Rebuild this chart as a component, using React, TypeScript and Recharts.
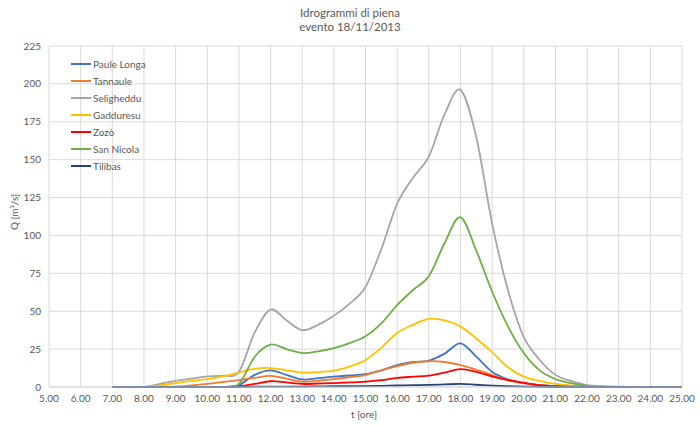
import React from 'react';
import { LineChart, Line, XAxis, YAxis, CartesianGrid } from 'recharts';

const hours = [7, 7.5, 8, 8.5, 9, 9.5, 10, 10.5, 11, 11.5, 12, 12.5, 13, 13.5, 14, 14.5, 15, 15.5, 16, 16.5, 17, 17.5, 18, 18.5, 19, 19.5, 20, 20.5, 21, 21.5, 22, 22.5, 23, 23.5, 24, 24.5, 25];

const pauleLonga = [0, 0, 0, 0, 0, 0, 0, 0, 1.3, 8, 11, 8, 5, 5.8, 6.8, 7.6, 8.5, 11, 14.5, 16.5, 17.4, 22, 28.8, 20, 10, 5, 2.6, 1.2, 0.5, 0.2, 0, 0, 0, 0, 0, 0, 0];
const tannaule = [0, 0, 0, 0, 0.3, 1, 2, 3.3, 4.6, 6, 7.3, 5.5, 3.5, 4.2, 5.2, 6.5, 7.9, 11, 13.8, 16, 17, 16.5, 14.5, 11.5, 8, 4.5, 2.5, 1.2, 0.5, 0.2, 0, 0, 0, 0, 0, 0, 0];
const seligheddu = [0, 0, 0, 2, 4, 5.5, 7, 7.5, 10, 36, 51, 44, 37.5, 41, 47, 55, 66, 91, 121, 138, 152, 180, 196, 165, 108, 64, 33, 18, 8, 4, 1.3, 0.5, 0.2, 0, 0, 0, 0];
const gadduresu = [0, 0, 0, 1, 2.5, 4, 5.2, 7, 9.5, 12, 12.5, 11, 9.5, 9.8, 10.8, 13.5, 17.8, 26, 35.6, 41, 45, 44, 40, 32, 23, 13, 6.8, 4, 2, 1, 0.4, 0.1, 0, 0, 0, 0, 0];
const zozo = [0, 0, 0, 0, 0, 0, 0, 0, 0.5, 2, 3.8, 3, 2, 2.3, 2.6, 3, 3.5, 4.5, 6, 6.8, 7.5, 9.5, 11.8, 10, 7, 4.5, 2.8, 1.2, 0.5, 0.2, 0, 0, 0, 0, 0, 0, 0];
const sanNicola = [0, 0, 0, 0, 0, 0, 0, 0, 2, 20, 28, 25, 22.4, 23.5, 25.7, 29, 33.5, 42, 54, 64, 73, 95, 112, 90, 63, 40, 22.4, 11, 5.3, 2.5, 0.8, 0.3, 0.1, 0, 0, 0, 0];
const tilibas = [0, 0, 0, 0, 0, 0, 0, 0, 0, 0.2, 0.3, 0.3, 0.3, 0.4, 0.5, 0.5, 0.6, 0.8, 1, 1.2, 1.4, 1.7, 2, 1.5, 0.9, 0.5, 0.3, 0.1, 0, 0, 0, 0, 0, 0, 0, 0, 0];

const xTicks = [5, 6, 7, 8, 9, 10, 11, 12, 13, 14, 15, 16, 17, 18, 19, 20, 21, 22, 23, 24, 25];
const yTicks = [0, 25, 50, 75, 100, 125, 150, 175, 200, 225];

const series = [
  { key: 'p', name: 'Paule Longa', values: pauleLonga, color: '#4472C4' },
  { key: 't', name: 'Tannaule', values: tannaule, color: '#ED7D31' },
  { key: 's', name: 'Seligheddu', values: seligheddu, color: '#A5A5A5' },
  { key: 'g', name: 'Gadduresu', values: gadduresu, color: '#FFC000' },
  { key: 'z', name: 'Zozò', values: zozo, color: '#FF0000' },
  { key: 'n', name: 'San Nicola', values: sanNicola, color: '#70AD47' },
  { key: 'b', name: 'Tilibas', values: tilibas, color: '#264478' },
];

const data = hours.map((h, i) => {
  const row: any = { h };
  series.forEach((s) => { row[s.key] = s.values[i]; });
  return row;
});

// Excel-like smoothing (Catmull-Rom through the points)
function smoothCurve(context: any) {
  let pts: number[][] = [];
  return {
    areaStart() {},
    areaEnd() {},
    lineStart() { pts = []; },
    point(x: number, y: number) { pts.push([+x, +y]); },
    lineEnd() {
      const n = pts.length;
      if (!n) return;
      context.moveTo(pts[0][0], pts[0][1]);
      for (let i = 0; i < n - 1; i++) {
        const p0 = pts[i - 1] || pts[i];
        const p1 = pts[i];
        const p2 = pts[i + 1];
        const p3 = pts[i + 2] || p2;
        const c1x = p1[0] + (p2[0] - p0[0]) / 6;
        const c1y = p1[1] + (p2[1] - p0[1]) / 6;
        const c2x = p2[0] - (p3[0] - p1[0]) / 6;
        const c2y = p2[1] - (p3[1] - p1[1]) / 6;
        context.bezierCurveTo(c1x, c1y, c2x, c2y, p2[0], p2[1]);
      }
    },
  };
}

const FONT = 'Lato, "Open Sans", sans-serif';
const GREY = '#595959';

export default function App() {
  return (
    <div style={{ position: 'absolute', left: 0, top: 0, width: 700, height: 426, background: '#fff', fontFamily: FONT }}>
      <LineChart width={700} height={426} data={data} margin={{ top: 46, right: 18, bottom: 19, left: 0 }}>
        <CartesianGrid stroke="#d9d9d9" strokeWidth={1} />
        <XAxis
          type="number"
          dataKey="h"
          domain={[5, 25]}
          ticks={xTicks}
          interval={0}
          tickFormatter={(v: number) => v.toFixed(2)}
          height={20}
          tickLine={false}
          axisLine={{ stroke: '#d9d9d9' }}
          tick={{ fill: GREY, fontSize: 10, fontFamily: FONT }}
        />
        <YAxis
          type="number"
          domain={[0, 225]}
          ticks={yTicks}
          interval={0}
          width={49}
          tickLine={false}
          axisLine={false}
          tick={{ fill: GREY, fontSize: 10, fontFamily: FONT }}
        />
        {series.map((s) => (
          <Line
            key={s.key}
            type={smoothCurve as any}
            dataKey={s.key}
            name={s.name}
            stroke={s.color}
            strokeWidth={1.8}
            dot={false}
            isAnimationActive={false}
          />
        ))}
      </LineChart>
      <div style={{ position: 'absolute', left: 0, top: 6, width: 700, textAlign: 'center', color: GREY, fontSize: 11.5, lineHeight: '14px' }}>
        <div>Idrogrammi di piena</div>
        <div>evento 18/11/2013</div>
      </div>
      <div style={{ position: 'absolute', left: 14, top: 212, transform: 'translate(-50%, -50%) rotate(-90deg)', color: GREY, fontSize: 10, whiteSpace: 'nowrap' }}>
        Q [m³/s]
      </div>
      <div style={{ position: 'absolute', left: 364, top: 414, transform: 'translate(-50%, -50%)', color: GREY, fontSize: 10, whiteSpace: 'nowrap' }}>
        t [ore]
      </div>
      <div style={{ position: 'absolute', left: 71, top: 55 }}>
        {series.map((s) => (
          <div key={s.key} style={{ display: 'flex', alignItems: 'center', height: 17.1 }}>
            <div style={{ width: 20, height: 2, background: s.color, marginRight: 2 }} />
            <span style={{ color: GREY, fontSize: 10 }}>{s.name}</span>
          </div>
        ))}
      </div>
    </div>
  );
}
